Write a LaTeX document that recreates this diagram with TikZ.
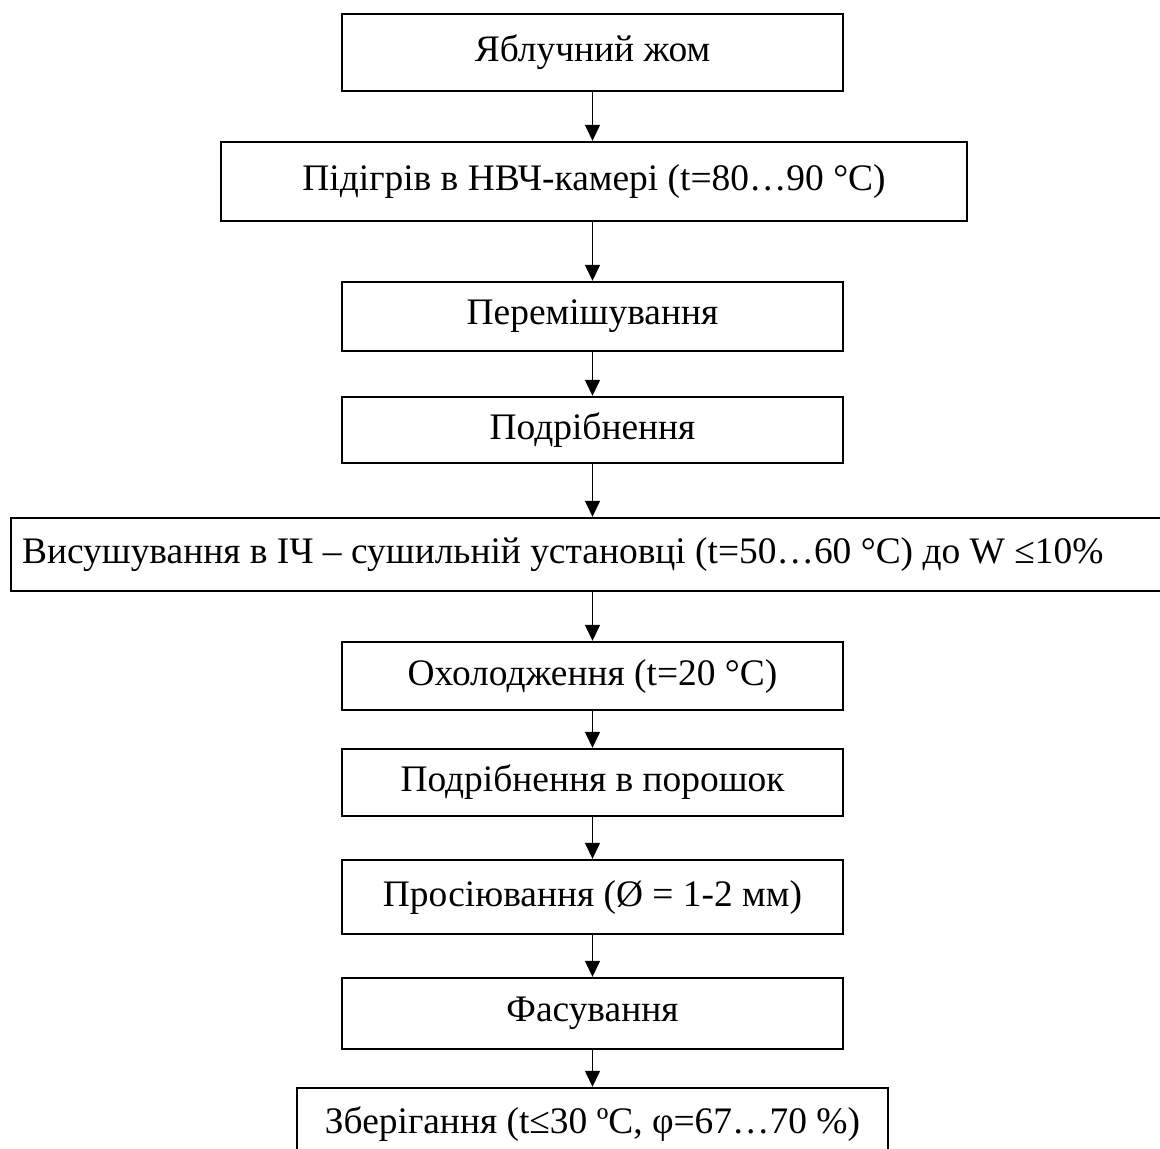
\documentclass[tikz,border=0pt]{standalone}
\usepackage{fontspec}
\setmainfont{Liberation Serif}
\usetikzlibrary{arrows.meta}

\begin{document}
\begin{tikzpicture}[x=0.02cm,y=-0.02cm,
        stage/.style={draw,line width=1.4pt,inner sep=0pt,font=\fontsize{21.3pt}{25pt}\selectfont},
        flow/.style={line width=0.6pt,-{Triangle[width=8.5pt,length=9pt]}}]%,cap=round,>=latex]
            \clip (0,0) rectangle (1160,1149);
            \node [stage,minimum width=10.02cm,minimum height=1.54cm] (zhom) at (592.5,52.5) {Яблучний жом};
            \node [stage,minimum width=14.92cm,minimum height=1.58cm] (pidigriv) at (594,181.5) {Підігрів в НВЧ-камері (t=80…90 °C)};
            \node [stage,minimum width=10.02cm,minimum height=1.38cm] (peremish) at (592.5,316.5) {Перемішування};
            \node [stage,minimum width=10.02cm,minimum height=1.32cm] (podrib) at (592.5,430) {Подрібнення};
            \node [stage,text width=22.84cm,inner xsep=0.22cm,align=flush left,minimum height=1.46cm] (vysush) at (593,554.5) {Висушування в ІЧ – сушильній установці (t=50…60 °C) до W ≤10\%};
            \node [stage,minimum width=10.02cm,minimum height=1.36cm] (okholod) at (592.5,676) {Охолодження (t=20 °C)};
            \node [stage,minimum width=10.02cm,minimum height=1.34cm] (poroshok) at (592.5,782.5) {Подрібнення в порошок};
            \node [stage,minimum width=10.02cm,minimum height=1.48cm] (prosiyuv) at (592.5,897) {Просіювання (Ø = 1-2 мм)};
            \node [stage,minimum width=10.02cm,minimum height=1.42cm] (fasuv) at (592.5,1013.5) {Фасування};
            \node [stage,minimum width=11.82cm,minimum height=1.44cm] (zberig) at (592.5,1124) {Зберігання (t≤30 ºC, φ=67…70 \%)};
            \draw [flow] (zhom.south) -- (zhom.south |- pidigriv.north);
            \draw [flow] (zhom.south |- pidigriv.south) -- (peremish.north);
            \draw [flow] (peremish.south) -- (podrib.north);
            \draw [flow] (podrib.south) -- (podrib.south |- vysush.north);
            \draw [flow] (podrib.south |- vysush.south) -- (okholod.north);
            \draw [flow] (okholod.south) -- (poroshok.north);
            \draw [flow] (poroshok.south) -- (prosiyuv.north);
            \draw [flow] (prosiyuv.south) -- (fasuv.north);
            \draw [flow] (fasuv.south) -- (zberig.north);
        \end{tikzpicture}
\end{document}
